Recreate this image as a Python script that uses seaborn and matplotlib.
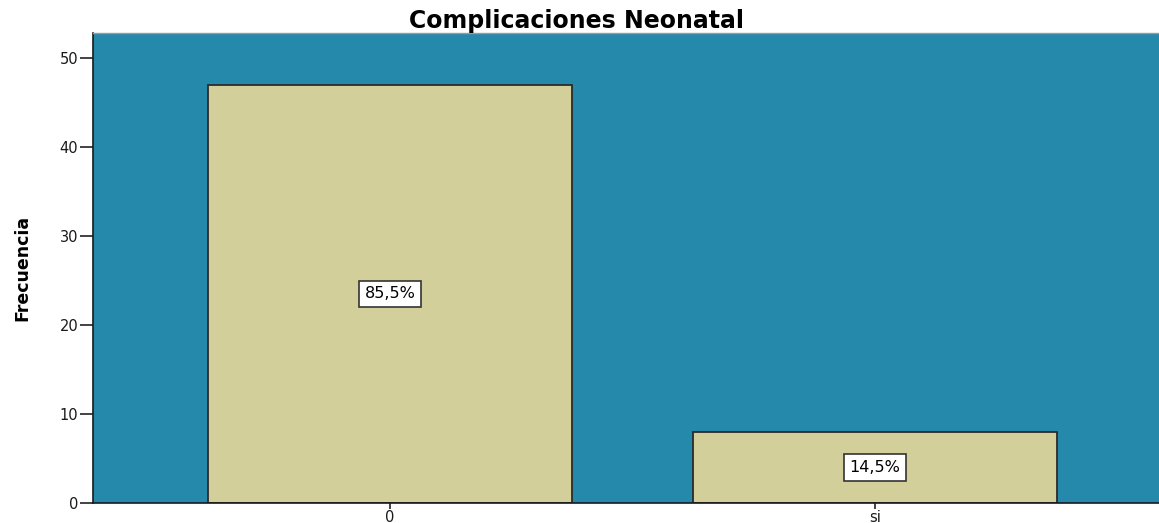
import matplotlib
matplotlib.use("Agg")
import matplotlib.pyplot as plt
import seaborn as sns
import pandas as pd

# Neonatal complications: frequency per category
categories = ["0", "si"]
counts = [47, 8]
y_ticks = [0, 10, 20, 30, 40, 50]

df = pd.DataFrame({"categoria": categories, "frecuencia": counts})
total = sum(counts)

sns.set_style("white")
plt.rcParams["font.family"] = ["DejaVu Sans"]

fig = plt.figure(figsize=(11.59, 5.23), dpi=100)
ax = fig.add_axes([0.0802, 0.0382, 0.9198, 0.8988])
ax.set_facecolor("#2489ab")

sns.barplot(data=df, x="categoria", y="frecuencia", color="#d3cf9b",
            saturation=1, width=0.75, edgecolor="#2b2b2b", linewidth=1.3, ax=ax)

ax.set_xlim(-0.612, 1.585)
ax.set_ylim(0, 52.8)
ax.set_yticks(y_ticks)
ax.tick_params(axis="y", direction="out", length=9.5, width=1.2, color="#222222",
               labelsize=10.5, labelcolor="#1a1a1a", pad=1, left=True)
ax.tick_params(axis="x", direction="out", length=4, width=1.2, color="#222222",
               labelsize=10.5, labelcolor="#1a1a1a", pad=1, bottom=True)

for side in ("left", "bottom"):
    ax.spines[side].set_color("#1a1a1a")
    ax.spines[side].set_linewidth(1.2)
ax.spines["top"].set_color("#9a9a9a")
ax.spines["top"].set_linewidth(1.0)
ax.spines["right"].set_visible(False)

# Percentage labels centred on each bar
for i, c in enumerate(counts):
    pct = f"{100 * c / total:.1f}%".replace(".", ",")
    ax.text(i, c / 2, pct, ha="center", va="center", fontsize=11.5, color="black",
            bbox=dict(boxstyle="square,pad=0.35", facecolor="white",
                      edgecolor="#333333", linewidth=1.2))

ax.set_xlabel("")
ax.set_ylabel("Frecuencia", fontsize=12.5, fontweight="bold", color="black",
              family=["Liberation Sans Narrow", "DejaVu Sans"], labelpad=20)
ax.set_title("Complicaciones Neonatal", fontsize=17, fontweight="bold",
             color="black", x=0.454, pad=3.5)

fig.savefig("out.png", dpi=100)
